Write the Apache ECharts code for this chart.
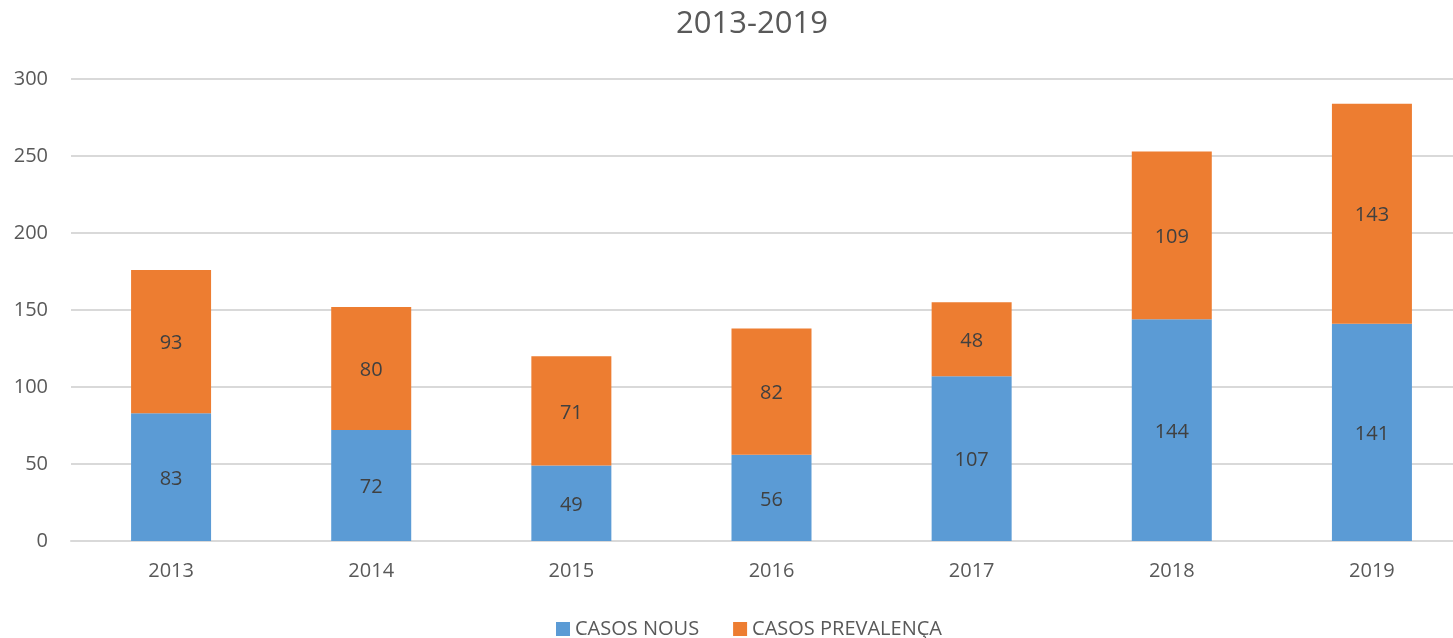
<!DOCTYPE html>
<html>
<head>
<meta charset="utf-8">
<script src="https://cdn.jsdelivr.net/npm/echarts@6/dist/echarts.min.js"></script>
<style>
  html, body { margin: 0; padding: 0; background: #fff; }
  #main { width: 1453px; height: 638px; }
</style>
</head>
<body>
<div id="main"></div>
<script>
// dades
var years = ['2013', '2014', '2015', '2016', '2017', '2018', '2019'];
var casosNous = [83, 72, 49, 56, 107, 144, 141];
var casosPrevalenca = [93, 80, 71, 82, 48, 109, 143];

var font = '"Open Sans", "Liberation Sans", sans-serif';

var myChart = echarts.init(document.getElementById('main'));

var option = {
    backgroundColor: '#ffffff',
    animation: false,
    title: {
        text: '2013-2019',
        left: 747,
        textAlign: 'center',
        top: 4,
        textStyle: {
            color: '#595959',
            fontFamily: font,
            fontSize: 31,
            fontWeight: 'normal'
        }
    },
    legend: {
        left: 551,
        top: 614,
        icon: 'rect',
        itemWidth: 14,
        itemHeight: 14,
        itemGap: 34,
        textStyle: {
            color: '#595959',
            fontFamily: font,
            fontSize: 20,
            padding: [0, 0, 0, 0]
        },
        data: ['CASOS NOUS', 'CASOS PREVALENÇA']
    },
    // la graella surt per la dreta, com a l'original
    grid: {
        left: 71,
        right: -19,
        top: 79,
        bottom: 97,
        outerBoundsMode: 'none'
    },
    xAxis: {
        type: 'category',
        data: years,
        axisLine: { lineStyle: { color: '#D9D9D9', width: 2 } },
        axisTick: { show: false },
        axisLabel: {
            color: '#595959',
            fontFamily: font,
            fontSize: 20,
            margin: 20
        }
    },
    yAxis: {
        type: 'value',
        min: 0,
        max: 300,
        interval: 50,
        axisLine: { show: false },
        axisTick: { show: false },
        axisLabel: {
            color: '#595959',
            fontFamily: font,
            fontSize: 20,
            margin: 23
        },
        splitLine: { lineStyle: { color: '#D9D9D9', width: 2 } }
    },
    series: [{
        name: 'CASOS NOUS',
        type: 'bar',
        stack: 'total',
        barWidth: 80,
        data: casosNous,
        itemStyle: { color: '#5B9BD5' },
        label: {
            show: true,
            position: 'inside',
            offset: [0, 2],
            color: '#404040',
            fontFamily: font,
            fontSize: 20
        }
    }, {
        name: 'CASOS PREVALENÇA',
        type: 'bar',
        stack: 'total',
        barWidth: 80,
        data: casosPrevalenca,
        itemStyle: { color: '#ED7D31' },
        label: {
            show: true,
            position: 'inside',
            offset: [0, 2],
            color: '#404040',
            fontFamily: font,
            fontSize: 20
        }
    }]
};

myChart.setOption(option);
</script>
</body>
</html>
